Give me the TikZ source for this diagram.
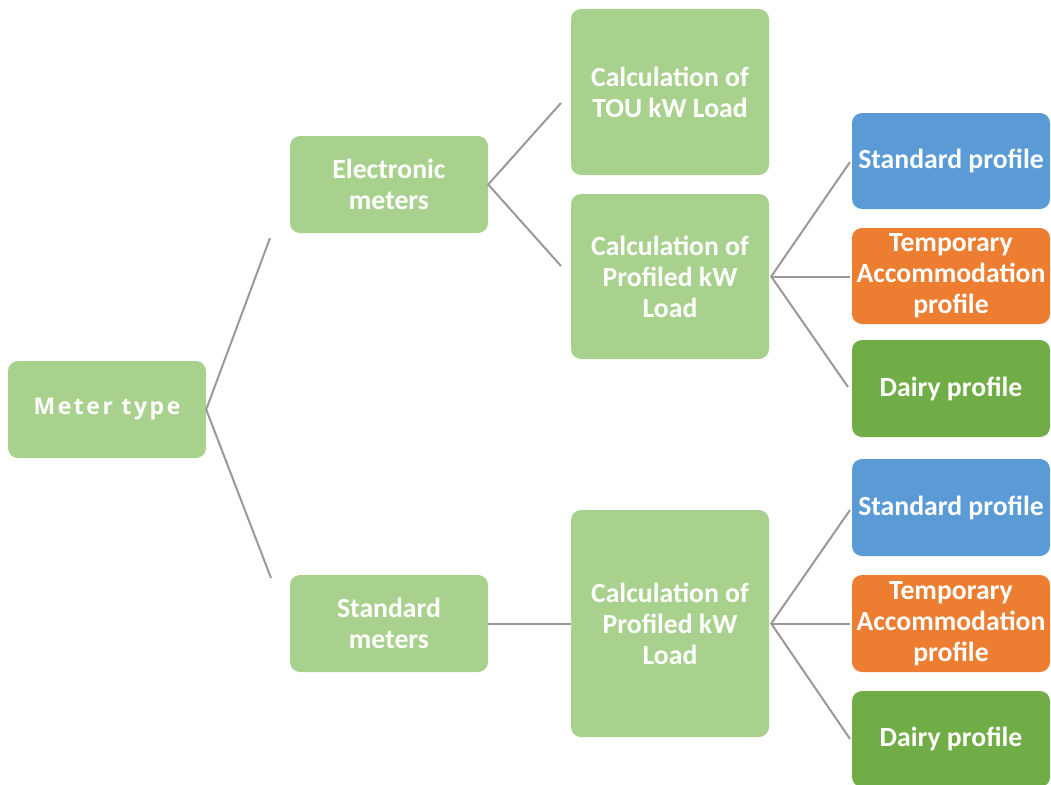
\documentclass[tikz,border=0pt]{standalone}
\usepackage{fontspec}
\setmainfont{Carlito}
\newfontfamily\meterfont[LetterSpace=11]{Open Sans}
\definecolor{lgreen}{HTML}{A9D18E}
\definecolor{pblue}{HTML}{5B9BD5}
\definecolor{porange}{HTML}{ED7D31}
\definecolor{pgreen}{HTML}{70AD47}
\definecolor{lgray}{HTML}{999999}
\begin{document}
\begin{tikzpicture}[x=1pt,y=-1pt,
  box/.style={rectangle, rounded corners=10pt, minimum width=198pt, inner sep=0pt, align=center, text=white,
    font=\fontsize{27.7}{31}\selectfont\bfseries},
  conn/.style={draw=lgray, line width=2pt}]
\useasboundingbox (0,0) rectangle (1051,784);
\node[box, fill=lgreen, minimum height=97pt, font=\meterfont\fontsize{23}{28}\selectfont\bfseries] (meter) at (107,409.5) {Meter type};
\node[box, fill=lgreen, minimum height=97pt] (elec) at (389,184.5) {Electronic\\meters};
\node[box, fill=lgreen, minimum height=97pt] (stdm) at (389,623.5) {Standard\\meters};
\node[box, fill=lgreen, minimum height=166pt] (tou) at (670,92) {Calculation of\\TOU kW Load};
\node[box, fill=lgreen, minimum height=165pt] (prof1) at (670,276.5) {Calculation of\\Profiled kW\\Load};
\node[box, fill=lgreen, minimum height=227pt] (prof2) at (670,623.5) {Calculation of\\Profiled kW\\Load};
\node[box, fill=pblue, minimum height=96pt] (sp1) at (951,161) {Standard profile};
\node[box, fill=porange, minimum height=96pt] (ta1) at (951,276) {Temporary\\Accommodation\\profile};
\node[box, fill=pgreen, minimum height=97pt] (dp1) at (951,388.5) {Dairy profile};
\node[box, fill=pblue, minimum height=97pt] (sp2) at (951,507.5) {Standard profile};
\node[box, fill=porange, minimum height=97pt] (ta2) at (951,623.5) {Temporary\\Accommodation\\profile};
\node[box, fill=pgreen, minimum height=96pt] (dp2) at (951,739) {Dairy profile};
\coordinate (m1) at (270,238);
\coordinate (m2) at (271,578);
\coordinate (e1) at (561,103);
\coordinate (e2) at (561,266);
\coordinate (p1a) at (850,162);
\coordinate (p1b) at (850,276.5);
\coordinate (p1c) at (848,387);
\coordinate (p2a) at (850,510);
\coordinate (p2b) at (850,623.5);
\coordinate (p2c) at (850,739);
\draw[conn] (m1) -- (meter.east) -- (m2);
\draw[conn] (e1) -- (elec.east) -- (e2);
\draw[conn] (stdm.east) -- (prof2.west);
\draw[conn] (p1a) -- ([xshift=2pt]prof1.east) -- (p1c);
\draw[conn] ([xshift=2pt]prof1.east) -- (p1b);
\draw[conn] (p2a) -- ([xshift=2pt]prof2.east) -- (p2c);
\draw[conn] ([xshift=2pt]prof2.east) -- (p2b);
\end{tikzpicture}
\end{document}
